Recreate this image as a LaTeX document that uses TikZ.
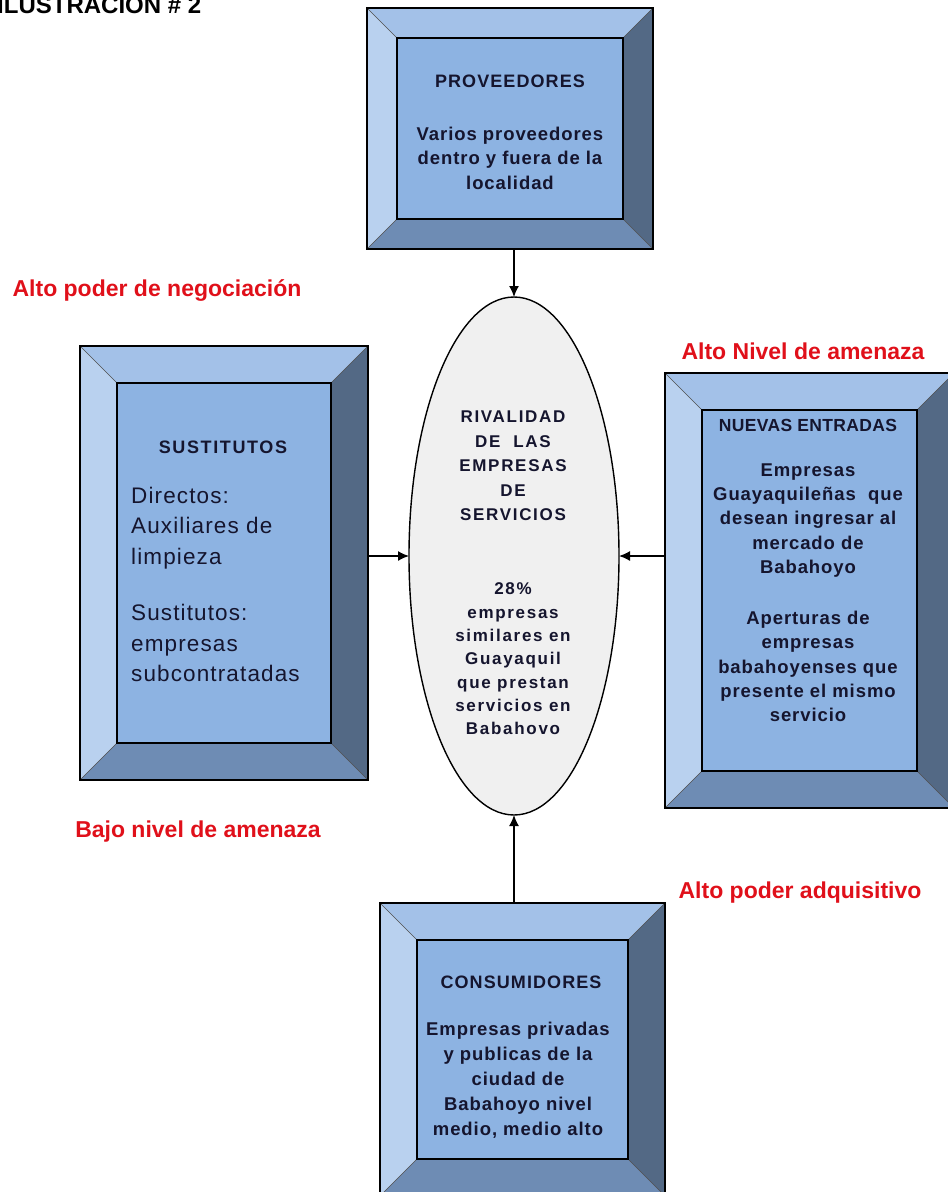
\documentclass[tikz,border=0pt]{standalone}
\usepackage{fontspec}
\setmainfont{Liberation Sans}
\newfontfamily\hdfont[LetterSpace=6]{Liberation Sans}
\newfontfamily\hdwfont[LetterSpace=9]{Liberation Sans}
\newfontfamily\hdnfont[LetterSpace=2]{Liberation Sans}
\newfontfamily\bdfont[LetterSpace=5]{Liberation Sans}
\newfontfamily\elfont[LetterSpace=10]{Liberation Sans}
\newfontfamily\sufont[LetterSpace=5]{Liberation Sans}
\usetikzlibrary{arrows.meta,shapes.geometric}
\definecolor{bvtop}{HTML}{A3C1E8}
\definecolor{bvleft}{HTML}{B9D1EF}
\definecolor{bvright}{HTML}{536985}
\definecolor{bvbot}{HTML}{6E8CB4}
\definecolor{bvface}{HTML}{8DB3E2}
\definecolor{ellfill}{HTML}{F0F0F0}
\definecolor{redlab}{HTML}{E0101A}
\definecolor{txtcol}{HTML}{15152E}
\newcommand\bevbox[6]{%
  \fill[bvtop] (#2,#3) -- (#4,#3) -- ({#4-#6},{#3+#6}) -- ({#2+#6},{#3+#6}) -- cycle;
  \fill[bvleft] (#2,#3) -- ({#2+#6},{#3+#6}) -- ({#2+#6},{#5-#6}) -- (#2,#5) -- cycle;
  \fill[bvright] (#4,#3) -- ({#4-#6},{#3+#6}) -- ({#4-#6},{#5-#6}) -- (#4,#5) -- cycle;
  \fill[bvbot] (#2,#5) -- ({#2+#6},{#5-#6}) -- ({#4-#6},{#5-#6}) -- (#4,#5) -- cycle;
  \draw[bvdiag] (#2,#3) -- ({#2+#6},{#3+#6}) (#4,#3) -- ({#4-#6},{#3+#6})
    (#2,#5) -- ({#2+#6},{#5-#6}) (#4,#5) -- ({#4-#6},{#5-#6});
  \node[outerbox, minimum width={(#4-#2)*1pt}, minimum height={(#5-#3)*1pt}]
    (#1) at ({(#2+#4)/2},{(#3+#5)/2}) {};
  \node[innerbox, minimum width={(#4-#2-2*#6)*1pt}, minimum height={(#5-#3-2*#6)*1pt}]
    (#1-in) at ({(#2+#4)/2},{(#3+#5)/2}) {};
}
\begin{document}
\begin{tikzpicture}[x=1pt,y=-1pt,
  outerbox/.style={draw=black, line width=1.4pt, inner sep=0pt, outer sep=0pt},
  innerbox/.style={draw=black, fill=bvface, line width=1.4pt, inner sep=0pt, outer sep=0pt},
  bvdiag/.style={draw=black!70, line width=0.6pt},
  txt/.style={text=txtcol, align=center, inner sep=0pt},
  hd/.style={txt, font=\hdfont\bfseries\fontsize{18}{24}\selectfont},
  bd/.style={txt, font=\bdfont\bfseries\fontsize{18.5}{24.5}\selectfont},
  el/.style={txt, font=\elfont\bfseries\fontsize{17}{24.5}\selectfont},
  su/.style={txt, align=left, font=\sufont\fontsize{22.5}{30.5}\selectfont},
  redl/.style={text=redlab, inner sep=0pt, font=\bfseries\fontsize{23}{26}\selectfont},
  arr/.style={draw=black, line width=1.4pt, -{Latex[length=11pt,width=10pt]}}
]
\useasboundingbox (0,0) rectangle (948,1192);

% title
\node[anchor=base west, inner sep=0pt, font=\bfseries\fontsize{24}{28}\selectfont] (title) at (-3,13.5) {ILUSTRACION \# 2};

% boxes
\bevbox{prov}{367}{8}{653}{249}{30}
\bevbox{sus}{80}{346}{368}{780}{37}
\bevbox{nue}{665}{373}{954}{808}{37}
\bevbox{con}{380}{903}{665}{1196}{37}

% ellipse
\node[ellipse, draw=black, line width=1.4pt, fill=ellfill, minimum width=210pt, minimum height=518pt, inner sep=0pt, outer sep=0pt] (ell) at (514,556) {};

% proveedores text
\node[hd] (provh) at (510,81) {PROVEEDORES};
\node[bd] (provb) at (510,158) {Varios proveedores\\dentro y fuera de la\\localidad};

% sustitutos text
\node[hd, font=\hdwfont\bfseries\fontsize{18}{24}\selectfont] (sush) at (223,447) {SUSTITUTOS};
\node[su, anchor=west] (susb1) at (131,528) {Directos:\\Auxiliares de\\limpieza};
\node[su, anchor=west] (susb2) at (131,643) {Sustitutos:\\empresas\\subcontratadas};

% ellipse text
\node[el] (elh) at (513,466) {RIVALIDAD\\DE~~LAS\\EMPRESAS\\DE\\SERVICIOS};
\node[el, font=\elfont\bfseries\fontsize{17}{23.3}\selectfont] (elb) at (513,659) {28\%\\empresas\\similares en\\Guayaquil\\que prestan\\servicios en\\Babahovo};

% nuevas entradas text
\node[hd, font=\hdnfont\bfseries\fontsize{17.5}{24}\selectfont] (nueh) at (808,425) {NUEVAS ENTRADAS};
\node[bd, font=\bdfont\bfseries\fontsize{18.5}{24.25}\selectfont] (nueb1) at (808,520.5) {Empresas\\Guayaquileñas~~que\\desean ingresar al\\mercado de\\Babahoyo};
\node[bd, font=\bdfont\bfseries\fontsize{18.5}{24.25}\selectfont] (nueb2) at (808,666.5) {Aperturas de\\empresas\\babahoyenses que\\presente el mismo\\servicio};

% consumidores text
\node[hd] (conh) at (521,982) {CONSUMIDORES};
\node[bd, font=\bdfont\bfseries\fontsize{18.5}{25}\selectfont] (conb) at (518,1080) {Empresas privadas\\y publicas de la\\ciudad de\\Babahoyo nivel\\medio, medio alto};

% red labels
\node[redl] (l1) at (157,290) {Alto poder de negociación};
\node[redl] (l2) at (803,351) {Alto Nivel de amenaza};
\node[redl] (l3) at (198,832) {Bajo nivel de amenaza};
\node[redl] (l4) at (800,893) {Alto poder adquisitivo};

% connectors
\draw[arr] (ell.north |- prov.south) -- (ell.north);
\draw[arr] (ell.west -| sus.east) -- (ell.west);
\draw[arr] (ell.east -| nue.west) -- (ell.east);
\draw[arr] (ell.south |- con.north) -- (ell.south);
\end{tikzpicture}
\end{document}
